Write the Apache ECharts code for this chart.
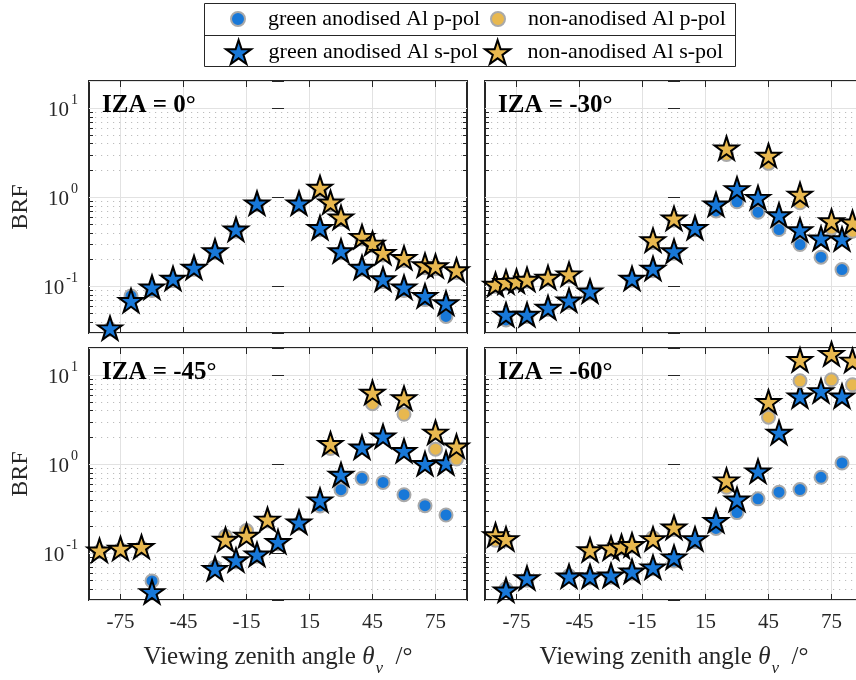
<!DOCTYPE html>
<html>
<head>
<meta charset="utf-8">
<script src="https://cdn.jsdelivr.net/npm/echarts@6/dist/echarts.min.js"></script>
<style>
  html, body { margin: 0; padding: 0; background: #fff; }
  #chart { width: 856px; height: 680px; }
</style>
</head>
<body>
<div id="chart"></div>
<script>
// ---- Axis definitions -------------------------------------------------
const panelTitles = ['IZA = 0°', 'IZA = -30°', 'IZA = -45°', 'IZA = -60°'];
const xTicks = [-75, -45, -15, 15, 45, 75];
const xRange = [-90, 90];
const yRange = [0.03, 20];
const yDecades = [0.1, 1, 10];
const yMinor = [0.04, 0.05, 0.06, 0.07, 0.08, 0.09,
                0.2, 0.3, 0.4, 0.5, 0.6, 0.7, 0.8, 0.9,
                2, 3, 4, 5, 6, 7, 8, 9];

const seriesNames = ['green anodised Al p-pol', 'green anodised Al s-pol',
                     'non-anodised Al p-pol', 'non-anodised Al s-pol'];

// ---- Measured BRF, per incidence zenith angle (IZA) -------------------
// IZA = 0°
const iza0GreenX = [-80, -70, -60, -50, -40, -30, -20, -10, 10, 20, 30, 40, 50, 60, 70, 80];
const iza0GreenP = [0.033, 0.078, 0.09, 0.116, 0.155, 0.238, 0.415, 0.82, 0.82, 0.43, 0.238, 0.155, 0.113, 0.09, 0.071, 0.046];
const iza0GreenS = [0.033, 0.067, 0.095, 0.119, 0.158, 0.242, 0.423, 0.83, 0.83, 0.441, 0.242, 0.158, 0.117, 0.095, 0.076, 0.063];
const iza0NonX = [20, 25, 30, 40, 45, 50, 60, 70, 75, 85];
const iza0NonP = [1.2, 0.82, 0.56, 0.34, 0.285, 0.225, 0.195, 0.162, 0.158, 0.143];
const iza0NonS = [1.24, 0.85, 0.576, 0.35, 0.294, 0.231, 0.203, 0.168, 0.164, 0.148];

// IZA = -30°
const iza30GreenX = [-80, -70, -60, -50, -40, -20, -10, 0, 10, 20, 30, 40, 50, 60, 70, 80];
const iza30GreenP = [0.042, 0.046, 0.055, 0.066, 0.084, 0.117, 0.15, 0.235, 0.43, 0.70, 0.887, 0.678, 0.433, 0.294, 0.212, 0.154];
const iza30GreenS = [0.0468, 0.0468, 0.0561, 0.0678, 0.0857, 0.119, 0.154, 0.241, 0.441, 0.806, 1.2, 0.957, 0.612, 0.415, 0.335, 0.329];
const iza30NonX = [-85, -80, -75, -70, -60, -50, -10, 0, 25, 45, 60, 75, 85];
const iza30NonP = [0.1, 0.107, 0.109, 0.114, 0.12, 0.13, 0.31, 0.55, 3.0, 2.39, 0.863, 0.45, 0.415];
const iza30NonS = [0.102, 0.109, 0.111, 0.116, 0.122, 0.133, 0.32, 0.561, 3.43, 2.84, 1.04, 0.524, 0.506];

// IZA = -45°
const iza45GreenX = [-60, -30, -20, -10, 0, 10, 20, 30, 40, 50, 60, 70, 80];
const iza45GreenP = [0.049, 0.07, 0.08, 0.093, 0.128, 0.215, 0.34, 0.517, 0.692, 0.624, 0.454, 0.342, 0.269];
const iza45GreenS = [0.0359, 0.0654, 0.0817, 0.0946, 0.131, 0.217, 0.383, 0.741, 1.5, 1.99, 1.37, 0.98, 1.0];
const iza45NonX = [-85, -75, -65, -25, -15, -5, 25, 45, 60, 75, 85];
const iza45NonP = [0.105, 0.11, 0.115, 0.155, 0.18, 0.23, 1.5, 4.76, 3.62, 1.47, 1.14];
const iza45NonS = [0.105, 0.11, 0.115, 0.139, 0.154, 0.233, 1.64, 6.16, 5.33, 2.2, 1.54];

// IZA = -60°
const iza60GreenX = [-80, -70, -50, -40, -30, -20, -10, 0, 10, 20, 30, 40, 50, 60, 70, 80];
const iza60GreenP = [0.040, 0.05, 0.056, 0.053, 0.054, 0.06, 0.067, 0.082, 0.135, 0.19, 0.286, 0.408, 0.484, 0.519, 0.711, 1.03];
const iza60GreenS = [0.0375, 0.0514, 0.0537, 0.0537, 0.055, 0.061, 0.068, 0.088, 0.141, 0.225, 0.391, 0.808, 2.19, 5.6, 6.42, 5.6];
const iza60NonX = [-85, -80, -40, -30, -25, -20, -10, 0, 25, 45, 60, 75, 85];
const iza60NonP = [0.14, 0.14, 0.105, 0.11, 0.115, 0.12, 0.15, 0.185, 0.55, 3.36, 8.58, 8.8, 7.74];
const iza60NonS = [0.156, 0.141, 0.106, 0.111, 0.116, 0.121, 0.141, 0.19, 0.642, 4.84, 14.3, 16.7, 14.1];

const panels = [
  { gx: iza0GreenX,  gp: iza0GreenP,  gs: iza0GreenS,  nx: iza0NonX,  np: iza0NonP,  ns: iza0NonS },
  { gx: iza30GreenX, gp: iza30GreenP, gs: iza30GreenS, nx: iza30NonX, np: iza30NonP, ns: iza30NonS },
  { gx: iza45GreenX, gp: iza45GreenP, gs: iza45GreenS, nx: iza45NonX, np: iza45NonP, ns: iza45NonS },
  { gx: iza60GreenX, gp: iza60GreenP, gs: iza60GreenS, nx: iza60NonX, np: iza60NonP, ns: iza60NonS }
];

// ---- Styling -----------------------------------------------------------
const FONT = 'Liberation Serif';
const INK = '#262626';
const BLUE = '#1878d8';
const GOLD = '#e8b84f';
const STAR = 'path://M0,-100L22.45,-30.9L95.11,-30.9L36.33,11.8L58.78,80.9L0,38.2L-58.78,80.9L-36.33,11.8L-95.11,-30.9L-22.45,-30.9Z';

const gridBoxes = [
  { left: 89,  top: 81 },
  { left: 485, top: 81 },
  { left: 89,  top: 348 },
  { left: 485, top: 348 }
];
const GRID_W = 378, GRID_H = 252;

function pairs(xs, ys) { return xs.map((x, k) => [x, ys[k]]); }

function decadeLabel(v) {
  const e = Math.round(Math.log10(v));
  if (Math.abs(v / Math.pow(10, e) - 1) > 1e-6) return '';
  return '{b|10}{s|' + e + '}';
}

// dotted minor grid + minor tick marks on both vertical edges of a panel
function minorGrid(params, api) {
  const cs = params.coordSys;
  const y = Math.round(api.coord([0, api.value(1)])[1]) + 0.5;
  const x0 = cs.x, x1 = cs.x + cs.width;
  return {
    type: 'group',
    children: [
      { type: 'line', shape: { x1: x0, y1: y, x2: x1, y2: y },
        style: { stroke: '#bdbdbd', lineWidth: 1, lineDash: [1.2, 4.8] } },
      { type: 'line', shape: { x1: x0, y1: y, x2: x0 + 4, y2: y },
        style: { stroke: INK, lineWidth: 1 } },
      { type: 'line', shape: { x1: x1 - 4, y1: y, x2: x1, y2: y },
        style: { stroke: INK, lineWidth: 1 } }
    ]
  };
}

const grids = gridBoxes.map(b => ({
  left: b.left, top: b.top, width: GRID_W, height: GRID_H,
  show: true, borderColor: INK, borderWidth: 2, backgroundColor: 'transparent',
  outerBoundsMode: 'none', containLabel: false
}));

const xAxes = [];
const yAxes = [];
for (let i = 0; i < 4; i++) {
  const bottomRow = i >= 2;
  const leftCol = i % 2 === 0;
  xAxes.push({
    type: 'value', gridIndex: i, position: 'bottom', min: xRange[0], max: xRange[1],
    axisLine: { show: false },
    axisTick: { show: true, inside: true, length: 6, customValues: xTicks, lineStyle: { color: INK } },
    axisLabel: { show: bottomRow, customValues: xTicks, margin: 12, fontFamily: FONT, fontSize: 21, color: INK },
    splitLine: { show: true, lineStyle: { color: '#e2e2e2', width: 1 } },
    name: bottomRow ? '{n|Viewing zenith angle }{i|θ}{v|v}{n|  /°}' : '',
    nameLocation: 'middle', nameGap: 38,
    nameTextStyle: {
      fontFamily: FONT, fontSize: 25, color: INK,
      rich: {
        n: { fontFamily: FONT, fontSize: 25, color: INK },
        i: { fontFamily: FONT, fontSize: 25, fontStyle: 'italic', color: INK },
        v: { fontFamily: FONT, fontSize: 17, fontStyle: 'italic', color: INK, padding: [22, 0, 0, 1] }
      }
    }
  });
  yAxes.push({
    type: 'log', logBase: 10, gridIndex: i, position: 'left', min: yRange[0], max: yRange[1],
    axisLine: { show: false },
    axisTick: { show: true, inside: true, length: 6, lineStyle: { color: INK } },
    axisLabel: {
      show: leftCol, margin: 11, formatter: decadeLabel,
      rich: {
        b: { fontFamily: FONT, fontSize: 21, color: INK, padding: [5, 0, 0, 0] },
        s: { fontFamily: FONT, fontSize: 14, color: INK, padding: [0, 0, 16, 2] }
      }
    },
    splitLine: {
      show: true,
      interval: (idx, val) => decadeLabel(val) !== '',
      lineStyle: { color: '#e2e2e2', width: 1 }
    },
    name: leftCol ? 'BRF' : '', nameLocation: 'middle', nameGap: 56,
    nameTextStyle: { fontFamily: FONT, fontSize: 24, color: INK }
  });
}
// tick-only companions along the top and right edges
for (let i = 0; i < 4; i++) {
  xAxes.push({
    type: 'value', gridIndex: i, position: 'top', min: xRange[0], max: xRange[1],
    axisLine: { show: false },
    axisTick: { show: true, inside: true, length: 6, customValues: xTicks, lineStyle: { color: INK } },
    axisLabel: { show: false }, splitLine: { show: false }
  });
  yAxes.push({
    type: 'log', logBase: 10, gridIndex: i, position: 'right', min: yRange[0], max: yRange[1],
    axisLine: { show: false },
    axisTick: { show: true, inside: true, length: 6, lineStyle: { color: INK } },
    axisLabel: { show: false }, splitLine: { show: false }
  });
}

const circleStyle = c => ({ color: c, borderColor: '#a9a9a9', borderWidth: 2, opacity: 1 });
const starStyle = c => ({ color: c, borderColor: '#000', borderWidth: 2, opacity: 1 });

const series = [];
panels.forEach((p, i) => {
  series.push({
    type: 'custom', xAxisIndex: i, yAxisIndex: i, z: 1, silent: true,
    renderItem: minorGrid,
    data: yMinor.map(v => [0, v])
  });
  const common = { type: 'scatter', xAxisIndex: i, yAxisIndex: i, emphasis: { disabled: true } };
  series.push(Object.assign({}, common, {
    name: seriesNames[0], z: 3, symbol: 'circle', symbolSize: 13,
    itemStyle: circleStyle(BLUE), data: pairs(p.gx, p.gp)
  }));
  series.push(Object.assign({}, common, {
    name: seriesNames[1], z: 4, symbol: STAR, symbolSize: [24, 23], symbolOffset: [0, -1.2],
    itemStyle: starStyle(BLUE), data: pairs(p.gx, p.gs)
  }));
  series.push(Object.assign({}, common, {
    name: seriesNames[2], z: 5, symbol: 'circle', symbolSize: 13,
    itemStyle: circleStyle(GOLD), data: pairs(p.nx, p.np)
  }));
  series.push(Object.assign({}, common, {
    name: seriesNames[3], z: 6, symbol: STAR, symbolSize: [24, 23], symbolOffset: [0, -1.2],
    itemStyle: starStyle(GOLD), data: pairs(p.nx, p.ns)
  }));
});

const legendText = { fontFamily: FONT, fontSize: 22, color: '#000' };
const legendAt = (name, left, top, h) => ({
  data: [name], left: left, top: top, padding: 0, orient: 'horizontal',
  itemWidth: 50, itemHeight: h, itemGap: 0, symbolKeepAspect: true,
  selectedMode: false, textStyle: legendText
});

const titles = panelTitles.map((t, i) => ({
  text: t, left: gridBoxes[i].left + 8, top: gridBoxes[i].top + 7, padding: 5,
  textStyle: { fontFamily: FONT, fontSize: 25, fontWeight: 'bold', color: '#000' }
}));

const chart = echarts.init(document.getElementById('chart'), null, { renderer: 'canvas' });
chart.setOption({
  animation: false,
  backgroundColor: '#fff',
  title: titles,
  grid: grids,
  xAxis: xAxes,
  yAxis: yAxes,
  legend: [
    legendAt(seriesNames[0], 230, 8, 14),
    legendAt(seriesNames[2], 490, 8, 14),
    legendAt(seriesNames[1], 225, 39, 24),
    legendAt(seriesNames[3], 484, 39, 24)
  ],
  graphic: [
    { type: 'rect', shape: { x: 204.5, y: 3.5, width: 531, height: 63 },
      style: { fill: 'none', stroke: INK, lineWidth: 1 }, silent: true },
    { type: 'line', shape: { x1: 204.5, y1: 35.5, x2: 735.5, y2: 35.5 },
      style: { stroke: INK, lineWidth: 1 }, silent: true }
  ],
  series: series
});
</script>
</body>
</html>
